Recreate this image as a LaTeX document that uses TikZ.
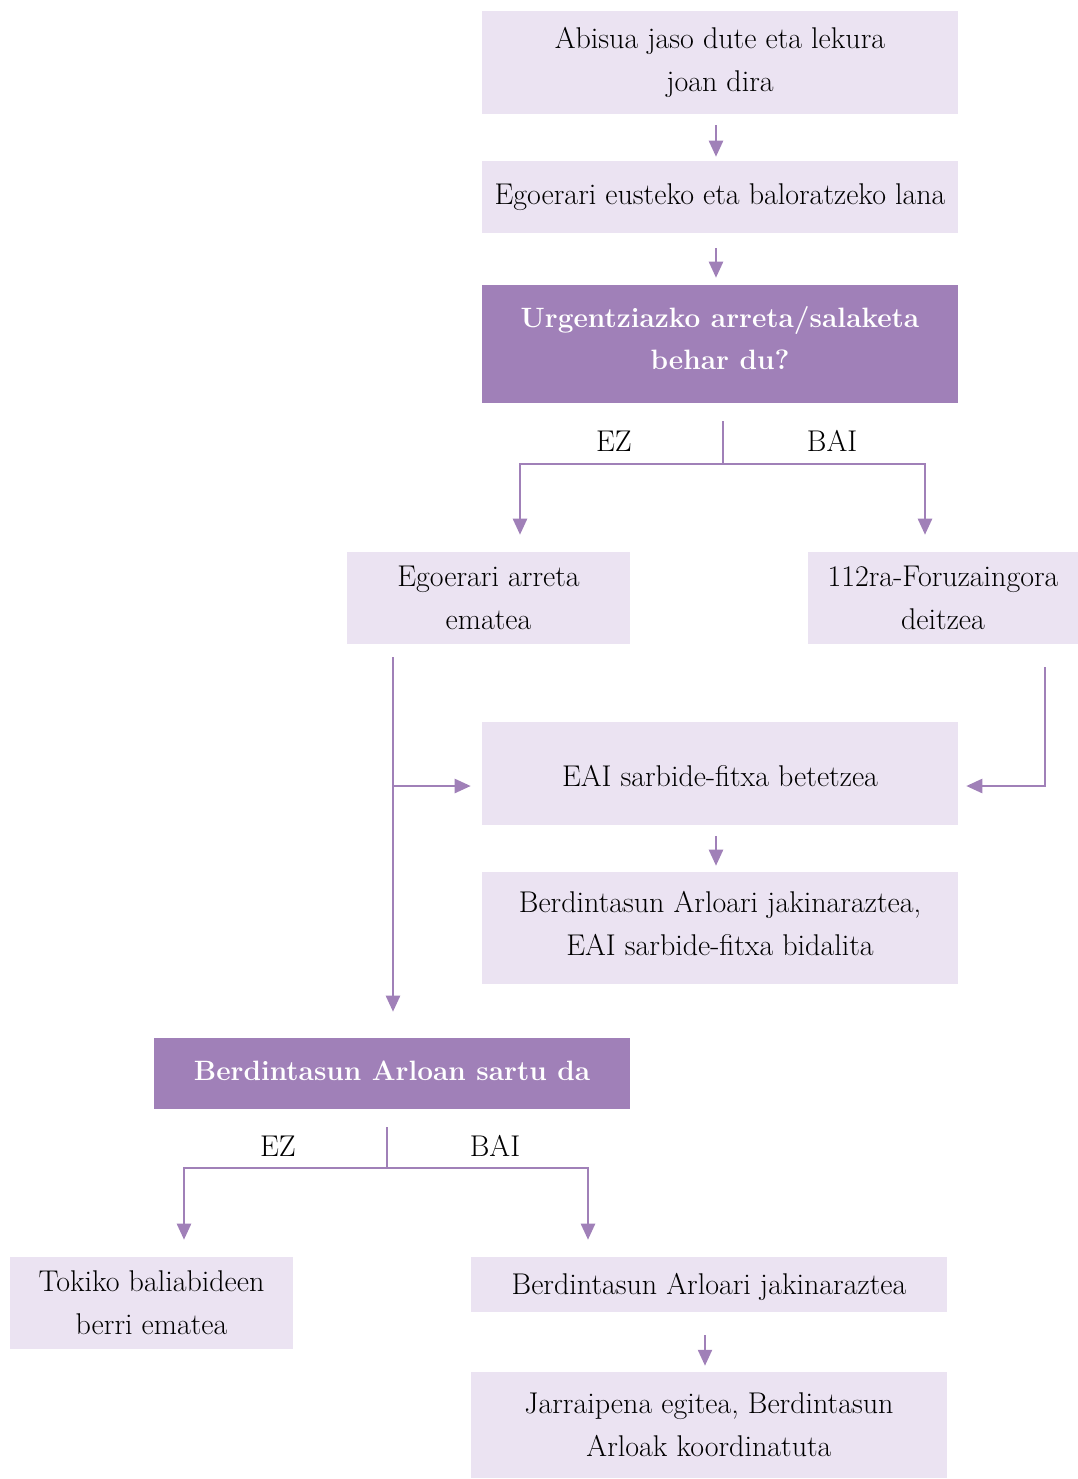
\documentclass[tikz,border=0pt]{standalone}
\usetikzlibrary{arrows.meta,calc}
\definecolor{lightlav}{RGB}{235,227,242}
\definecolor{darklav}{RGB}{160,128,184}
\begin{document}
\begin{tikzpicture}[x=0.75pt,y=-0.75pt,
  box/.style={fill=lightlav, draw=none, inner sep=0pt, align=center, font=\fontsize{22.5}{32}\selectfont},
  dbox/.style={fill=darklav, draw=none, inner sep=0pt},
  btext/.style={inner sep=0pt, align=center, font=\fontsize{22.5}{32}\selectfont},
  dtext/.style={inner sep=0pt, text=white, align=center, font=\fontsize{21}{32}\selectfont\bfseries},
  conn/.style={draw=darklav, line width=1.8pt},
  arr/.style={conn, -{Triangle[length=12pt,width=10.5pt]}},
  lbl/.style={font=\fontsize{22.5}{24}\selectfont, inner sep=0pt}]
\path[use as bounding box] (0,0) rectangle (1078,1479);

\node[box, minimum width=357pt, minimum height=77.25pt] (n1) at (720,62.5) {Abisua jaso dute eta lekura\\joan dira};
\node[box, minimum width=357pt, minimum height=54pt] (n2) at (720,197) {Egoerari eusteko eta baloratzeko lana};
\node[dbox, minimum width=357pt, minimum height=88.5pt] (n3) at (720,344) {};
\node[dtext] (n3t) at (720,338) {Urgentziazko arreta/salaketa\\behar du?};
\node[box, minimum width=212.25pt, minimum height=69pt] (n4) at (488.5,598) {Egoerari arreta\\ematea};
\node[box, minimum width=202.5pt, minimum height=69pt] (n5) at (943,598) {112ra-Foruzaingora\\deitzea};
\node[box, minimum width=357pt, minimum height=77.25pt] (n6) at (720,773.5) {};
\node[btext] (n6t) at (720,776) {EAI sarbide-fitxa betetzea};
\node[box, minimum width=357pt, minimum height=84pt] (n7) at (720,928) {};
\node[btext] (n7t) at (720,923.5) {Berdintasun Arloari jakinaraztea,\\EAI sarbide-fitxa bidalita};
\node[dbox, minimum width=357pt, minimum height=53.25pt] (n8) at (392,1073.5) {};
\node[dtext] (n8t) at (392,1071) {Berdintasun Arloan sartu da};
\node[box, minimum width=212.25pt, minimum height=69pt] (n9) at (151.5,1303) {Tokiko baliabideen\\berri ematea};
\node[box, minimum width=357pt, minimum height=41.25pt] (n10) at (709,1284.5) {};
\node[btext] (n10t) at (709,1286.5) {Berdintasun Arloari jakinaraztea};
\node[box, minimum width=357pt, minimum height=79.5pt] (n11) at (709,1425) {Jarraipena egitea, Berdintasun\\Arloak koordinatuta};

% simple arrows
\draw[arr] ($(n1.south)+(-4,11)$) -- ($(n2.north)+(-4,-4)$);
\draw[arr] ($(n2.south)+(-4,15)$) -- ($(n3.north)+(-4,-7)$);
\draw[arr] ($(n6.south)+(-4,11)$) -- ($(n7.north)+(-4,-6)$);
\draw[arr] ($(n10.south)+(-4,23)$) -- ($(n11.north)+(-4,-6)$);

% first decision
\coordinate (b1) at ($(n3.south)+(3,18)$);
\coordinate (j1) at ($(n3.south)+(3,61)$);
\draw[conn] (b1) -- (j1);
\draw[arr] (j1) -| ($(n4.north)+(31.5,-17)$);
\draw[arr] (j1) -| ($(n5.north)+(-18,-17)$);
\node[lbl] (ez1) at (614,441) {EZ};
\node[lbl] (bai1) at (832,441) {BAI};

% left long line
\coordinate (l1) at ($(n4.south)+(-95.5,13)$);
\coordinate (l2) at ($(n8.north)+(1,-26)$);
\coordinate (lj) at (l1 |- 0,786);
\draw[arr] (l1) -- (l2);
\draw[arr] (lj) -- ($(n6.west)+(-11,12.5)$);

% right return line
\coordinate (r1) at ($(n5.south)+(102,23)$);
\draw[arr] (r1) |- ($(n6.east)+(8,12.5)$);

% second decision
\coordinate (b2) at ($(n8.south)+(-5,18)$);
\coordinate (j2) at ($(n8.south)+(-5,59)$);
\draw[conn] (b2) -- (j2);
\draw[arr] (j2) -| ($(n9.north)+(32.5,-17)$);
\draw[arr] (j2) -| ($(n10.north)+(-121,-17)$);
\node[lbl] (ez2) at (278,1146) {EZ};
\node[lbl] (bai2) at (495,1146) {BAI};
\end{tikzpicture}
\end{document}
